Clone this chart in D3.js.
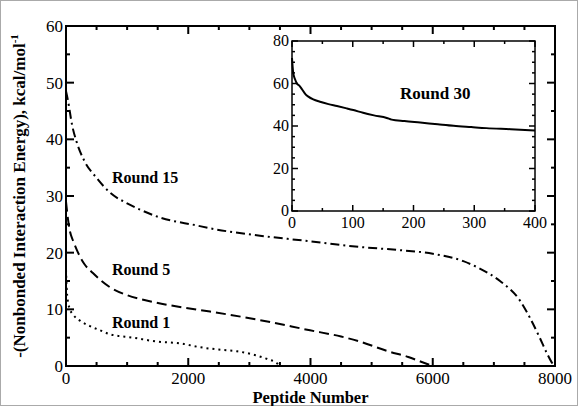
<!DOCTYPE html>
<html>
<head>
    <title>Peptide Interaction Energy</title>
    <script src="https://cdnjs.cloudflare.com/ajax/libs/d3/7.8.5/d3.min.js"></script>
    <style>
        body {
            margin: 0;
            background-color: white;
        }
    </style>
</head>
<body>
    <div id="chart"></div>

    <script>
        // Data: [peptide number, -(energy)]
        const round1 = [[0,17],[10,14],[30,11.5],[65,10],[120,9],[229,8],[400,7],[556,6.3],[720,5.6],
            [1096,5],[1500,4.3],[1865,4],[2200,3.3],[2500,2.9],[2800,2.6],[3100,1.9],[3300,1.2],[3450,0.5],[3500,0]];
        const round5 = [[0,29],[20,27],[60,24],[120,22],[180,20.4],[300,18],[440,16.4],[720,13.9],[1000,12.5],
            [1300,11.6],[1865,10.4],[2356,9.6],[3174,8.1],[3992,6.3],[4500,5.2],[4810,4.3],[5270,2.6],
            [5600,1.6],[5820,0.7],[6000,0]];
        const round15 = [[0,48.5],[33,46.8],[100,42.5],[175,39.5],[300,36.2],[500,33.2],[720,30.6],[1000,28.7],
            [1210,27.6],[1538,26.2],[2140,24.8],[2356,24.3],[3174,23],[4000,22],[4810,21],[5400,20.5],
            [6000,19.8],[6500,18.5],[6770,17.2],[7100,15],[7430,11.5],[7590,8.5],[7750,5],[7870,2.2],
            [7970,0.3],[8000,0]];
        const round30 = [[0,72],[1,68],[2,65],[5,62],[8,60],[12,59],[16,57.5],[22,55],[27,53.8],[35,52.5],
            [46,51.4],[60,50.3],[74,49.4],[90,48.3],[101,47.5],[117,46.2],[135,45],[156,43.8],[164,43],
            [185,42.3],[211,41.6],[240,40.8],[266,40.1],[295,39.5],[320,39],[360,38.5],[400,37.9]];

        const xTicks = [0, 2000, 4000, 6000, 8000];
        const yTicks = [0, 10, 20, 30, 40, 50, 60];
        const insetXTicks = [0, 100, 200, 300, 400];
        const insetYTicks = [0, 20, 40, 60, 80];

        const labels = [
            {text: 'Round 15', x: 112, y: 183},
            {text: 'Round 5', x: 112, y: 275},
            {text: 'Round 1', x: 112, y: 328}
        ];

        const serif = "'Liberation Serif', 'DejaVu Serif', 'Times New Roman', serif";
        const W = 578, H = 406;
        const svg = d3.select('#chart').append('svg')
            .attr('width', W)
            .attr('height', H)
            .attr('font-family', serif);

        svg.append('rect')
            .attr('x', 0.5).attr('y', 0.5)
            .attr('width', W - 1).attr('height', H - 1)
            .attr('fill', 'white')
            .attr('stroke', '#aaa')
            .attr('stroke-width', 1);

        // Main plot box
        const main = {left: 66, right: 555, top: 26, bottom: 366};
        const x = d3.scaleLinear().domain([0, 8000]).range([main.left, main.right]);
        const y = d3.scaleLinear().domain([0, 60]).range([main.bottom, main.top]);

        // draws inward ticks on all four sides of a box
        function frameAxes(g, xs, ys, xMajor, xMinor, yMajor, yMinor, majLen, minLen, width) {
            const x0 = xs.range()[0], x1 = xs.range()[1];
            const y0 = ys.range()[0], y1 = ys.range()[1];
            const tickGroup = g.append('g').attr('stroke', 'black').attr('stroke-width', width);
            xMinor.forEach(v => {
                const len = xMajor.includes(v) ? majLen : minLen;
                tickGroup.append('line').attr('x1', xs(v)).attr('x2', xs(v)).attr('y1', y0).attr('y2', y0 - len);
                tickGroup.append('line').attr('x1', xs(v)).attr('x2', xs(v)).attr('y1', y1).attr('y2', y1 + len);
            });
            yMinor.forEach(v => {
                const len = yMajor.includes(v) ? majLen : minLen;
                tickGroup.append('line').attr('y1', ys(v)).attr('y2', ys(v)).attr('x1', x0).attr('x2', x0 + len);
                tickGroup.append('line').attr('y1', ys(v)).attr('y2', ys(v)).attr('x1', x1).attr('x2', x1 - len);
            });
            g.append('rect')
                .attr('x', x0).attr('y', y1)
                .attr('width', x1 - x0).attr('height', y0 - y1)
                .attr('fill', 'none')
                .attr('stroke', 'black')
                .attr('stroke-width', width);
        }

        const mainG = svg.append('g');
        const line = d3.line().x(d => x(d[0])).y(d => y(d[1])).curve(d3.curveMonotoneX);

        mainG.append('path').datum(round1)
            .attr('fill', 'none').attr('stroke', 'black').attr('stroke-width', 2)
            .attr('stroke-dasharray', '2,4')
            .attr('d', line);
        mainG.append('path').datum(round5)
            .attr('fill', 'none').attr('stroke', 'black').attr('stroke-width', 2)
            .attr('stroke-dasharray', '10,5')
            .attr('d', line);
        mainG.append('path').datum(round15)
            .attr('fill', 'none').attr('stroke', 'black').attr('stroke-width', 2)
            .attr('stroke-dasharray', '9,4,2,4')
            .attr('d', line);

        frameAxes(mainG, x, y, xTicks, d3.range(0, 8001, 500), yTicks, d3.range(0, 61, 5), 8, 4, 2);

        mainG.selectAll('.xlab').data(xTicks).join('text')
            .attr('x', d => x(d)).attr('y', main.bottom + 18)
            .attr('text-anchor', 'middle')
            .style('font-size', '17px')
            .text(d => d);
        mainG.selectAll('.ylab').data(yTicks).join('text')
            .attr('x', main.left - 3).attr('y', d => y(d) + 6)
            .attr('text-anchor', 'end')
            .style('font-size', '17px')
            .text(d => d);

        svg.append('text')
            .attr('x', (main.left + main.right) / 2).attr('y', 403)
            .attr('text-anchor', 'middle')
            .style('font-size', '16.5px').style('font-weight', 'bold')
            .text('Peptide Number');

        const yTitle = svg.append('text')
            .attr('transform', `translate(25,${(main.top + main.bottom) / 2}) rotate(-90)`)
            .attr('text-anchor', 'middle')
            .style('font-size', '17px').style('font-weight', 'bold');
        yTitle.append('tspan').text('-(Nonbonded Interaction Energy), kcal/mol');
        yTitle.append('tspan').attr('dy', -7).style('font-size', '11px').text('-1');

        svg.selectAll('.rlab').data(labels).join('text')
            .attr('x', d => d.x).attr('y', d => d.y)
            .style('font-size', '16px').style('font-weight', 'bold')
            .text(d => d.text);

        // Inset: Round 30
        const ins = {left: 292, right: 535, top: 41, bottom: 211};
        const ix = d3.scaleLinear().domain([0, 400]).range([ins.left, ins.right]);
        const iy = d3.scaleLinear().domain([0, 80]).range([ins.bottom, ins.top]);
        const insG = svg.append('g');
        insG.append('rect')
            .attr('x', ins.left).attr('y', ins.top)
            .attr('width', ins.right - ins.left).attr('height', ins.bottom - ins.top)
            .attr('fill', 'white');
        insG.append('path').datum(round30)
            .attr('fill', 'none').attr('stroke', 'black').attr('stroke-width', 2)
            .attr('d', d3.line().x(d => ix(d[0])).y(d => iy(d[1])).curve(d3.curveMonotoneX));
        frameAxes(insG, ix, iy, insetXTicks, d3.range(0, 401, 50), insetYTicks, d3.range(0, 81, 5), 6, 3, 1.5);

        insG.selectAll('.ixlab').data(insetXTicks).join('text')
            .attr('x', d => ix(d)).attr('y', ins.bottom + 17)
            .attr('text-anchor', 'middle')
            .style('font-size', '16px')
            .text(d => d);
        insG.selectAll('.iylab').data(insetYTicks).join('text')
            .attr('x', ins.left - 3).attr('y', d => iy(d) + 5)
            .attr('text-anchor', 'end')
            .style('font-size', '16px')
            .text(d => d);
        insG.append('text')
            .attr('x', 400).attr('y', 99)
            .style('font-size', '17px').style('font-weight', 'bold')
            .text('Round 30');
    </script>
</body>
</html>
